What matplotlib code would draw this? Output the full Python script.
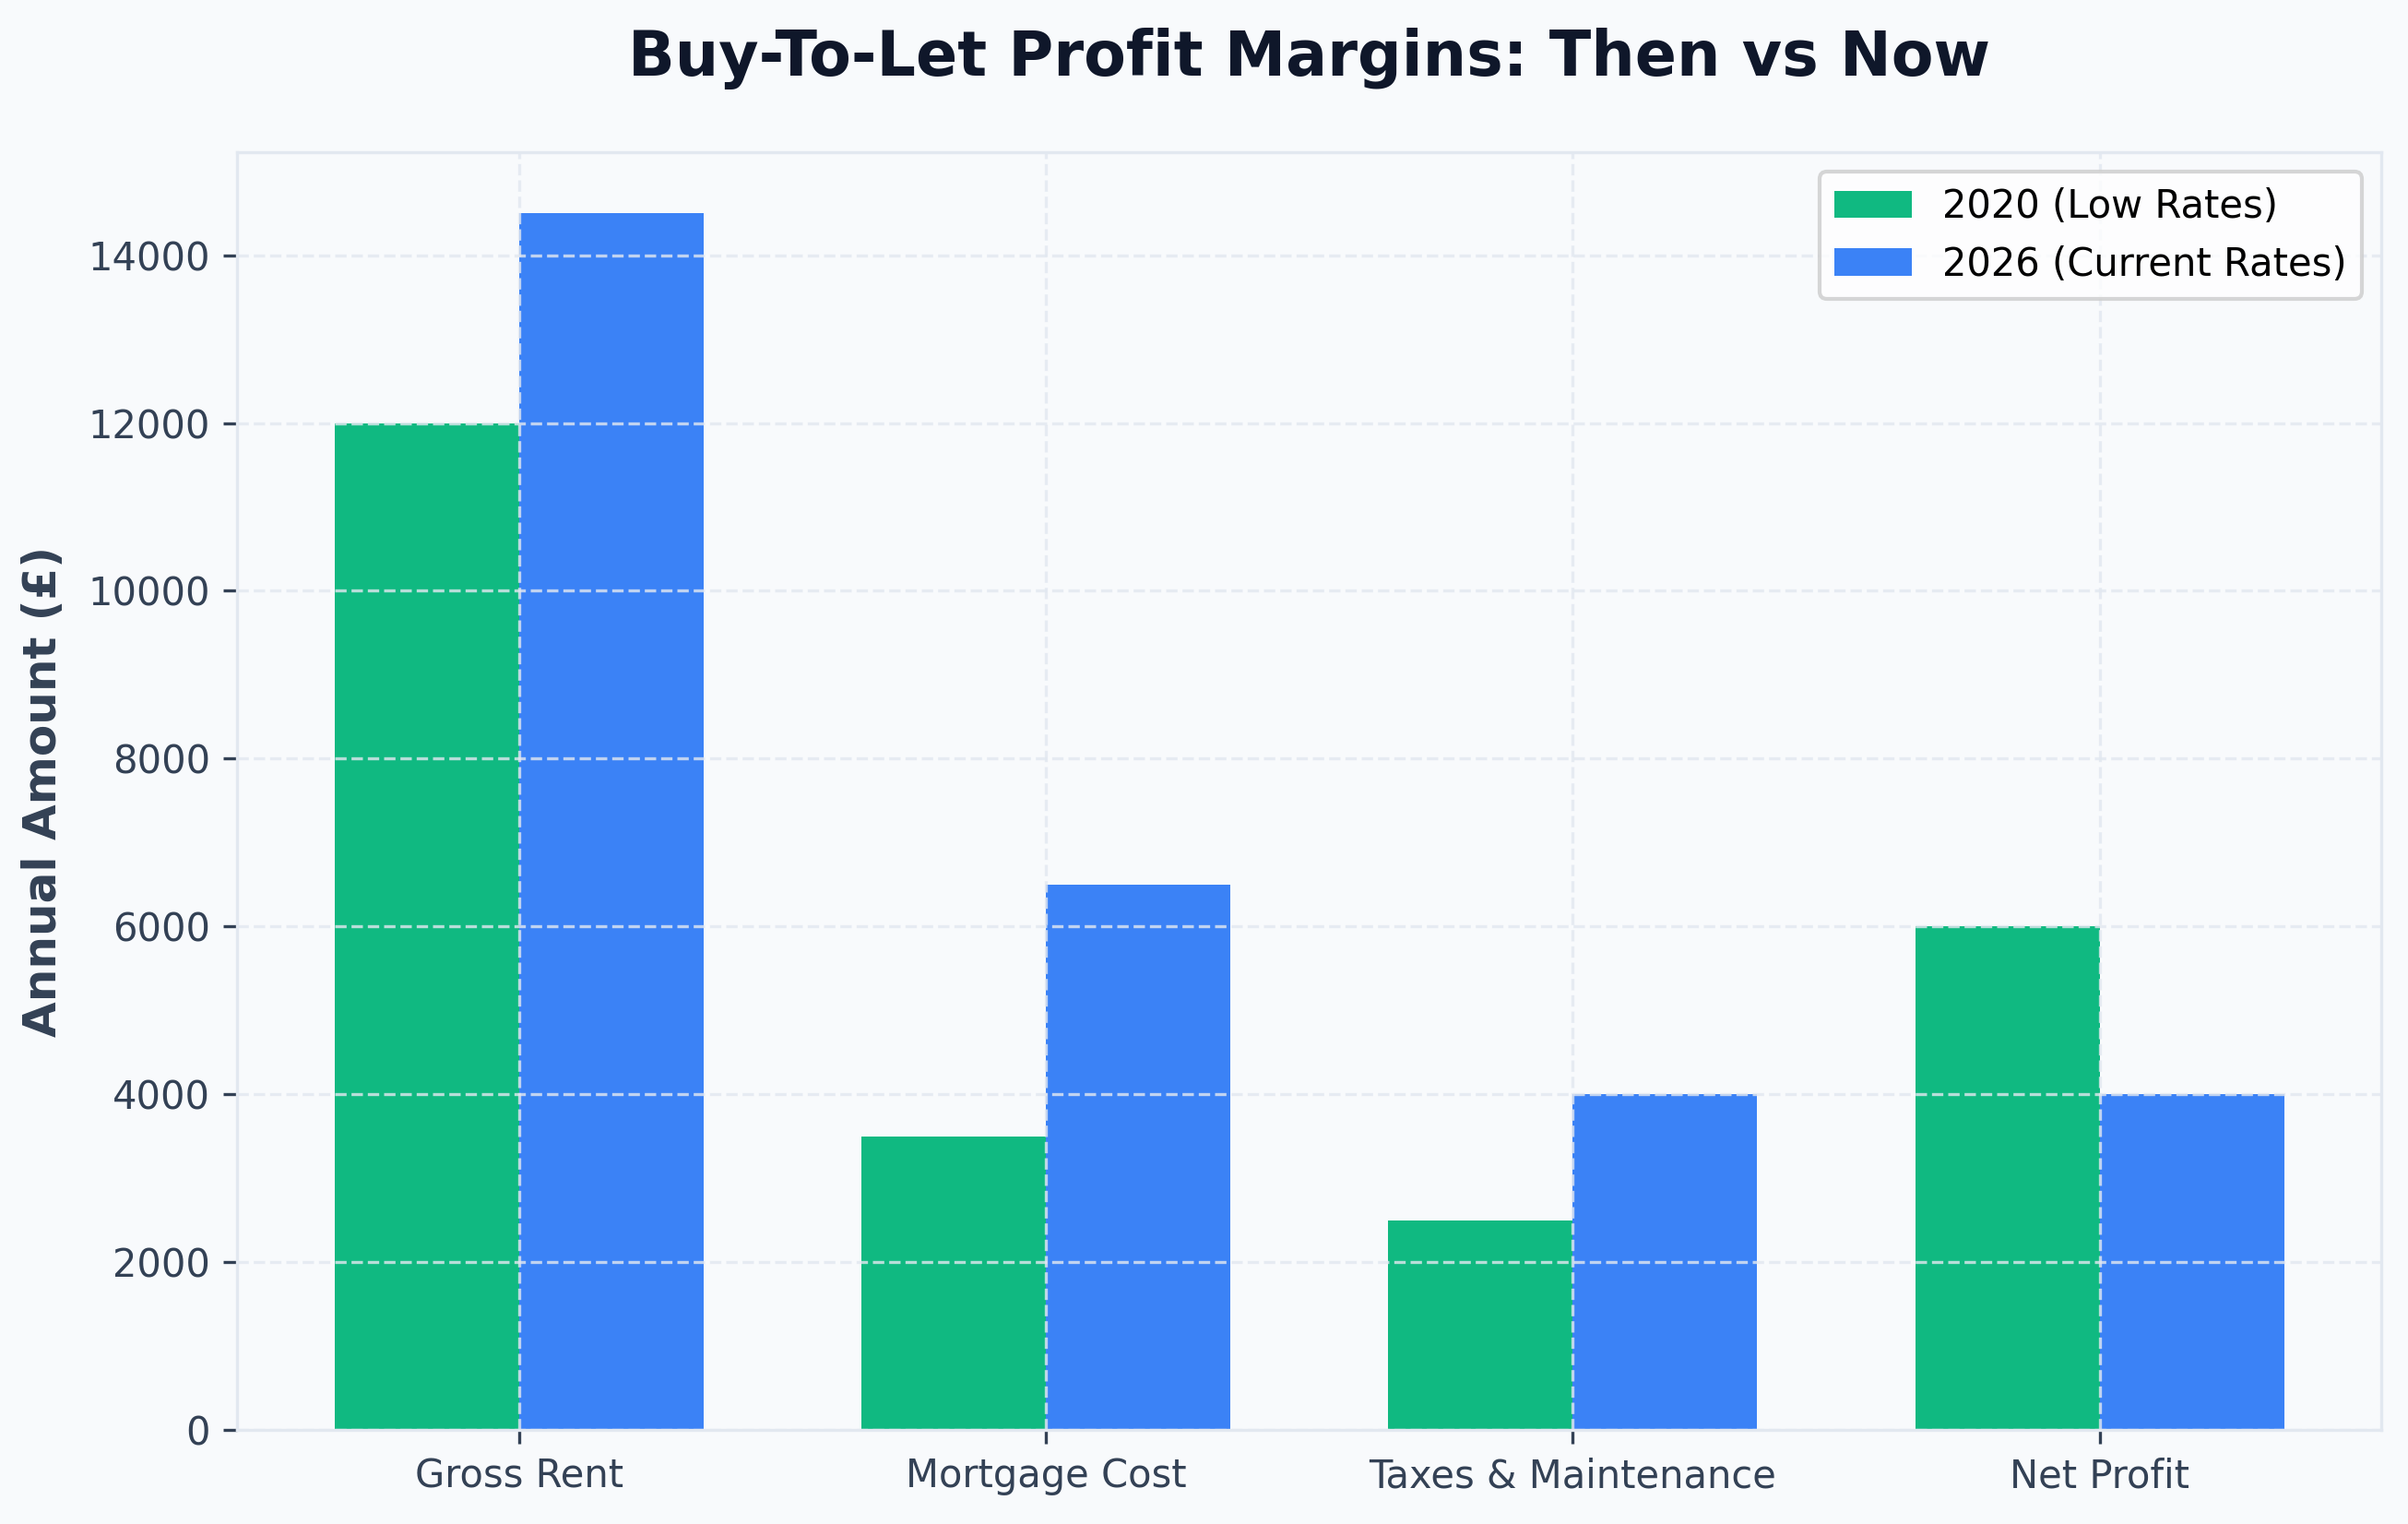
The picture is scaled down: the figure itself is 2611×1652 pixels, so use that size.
import numpy as np
import matplotlib.pyplot as plt

categories = ['Gross Rent', 'Mortgage Cost', 'Taxes & Maintenance', 'Net Profit']
values_2020 = [12000, 3500, 2500, 6000]
values_2026 = [14500, 6500, 4000, 4000]
series_labels = ['2020 (Low Rates)', '2026 (Current Rates)']

bg = '#f8fafc'
fig, ax = plt.subplots(figsize=(2611 / 300, 1652 / 300), dpi=300)
fig.patch.set_facecolor(bg)
ax.set_facecolor(bg)

x = np.arange(len(categories))
w = 0.35
ax.bar(x - w / 2, values_2020, w, color='#10b981', label=series_labels[0])
ax.bar(x + w / 2, values_2026, w, color='#3b82f6', label=series_labels[1])

ax.set_xticks(x)
ax.set_xticklabels(categories)
ax.tick_params(colors='#334155', labelsize=10)
ax.set_ylabel('Annual Amount (£)', fontsize=12, fontweight='bold', color='#334155', labelpad=6)
ax.set_title('Buy-To-Let Profit Margins: Then vs Now', fontsize=16, fontweight='bold',
             color='#0f172a', pad=20)

ax.grid(True, linestyle='--', color='#e2e8f0', alpha=0.8)
for s in ax.spines.values():
    s.set_color('#e2e8f0')

ax.legend(fontsize=10, loc='upper right')

fig.subplots_adjust(left=0.0985, right=0.989, top=0.9, bottom=0.0617)
fig.savefig('out.png', facecolor=bg)
